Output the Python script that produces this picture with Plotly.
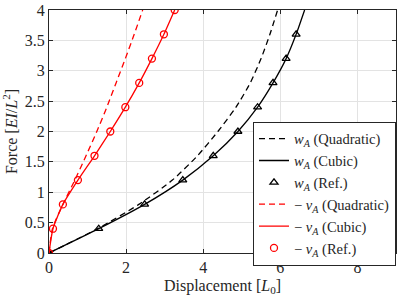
import plotly.graph_objects as go

force = [0, 0.4, 0.8, 1.2, 1.6, 2.0, 2.4, 2.8, 3.2, 3.6, 4.0]

w_quad = [0, 1.26, 2.33, 3.20, 3.85, 4.38, 4.85, 5.22, 5.50, 5.73, 5.93]
w_cubic = [0, 1.29, 2.48, 3.47, 4.26, 4.90, 5.41, 5.81, 6.15, 6.41, 6.63]
w_ref = [0, 1.29, 2.48, 3.47, 4.26, 4.90, 5.41, 5.81, 6.15, 6.41]
force_w_ref = [0, 0.4, 0.8, 1.2, 1.6, 2.0, 2.4, 2.8, 3.2, 3.6]

v_quad = [0, 0.09, 0.36, 0.67, 0.96, 1.24, 1.50, 1.74, 1.98, 2.21, 2.43]
v_cubic = [0, 0.103, 0.36, 0.75, 1.18, 1.59, 1.98, 2.34, 2.67, 2.98, 3.26]
v_ref = [0, 0.103, 0.36, 0.75, 1.18, 1.59, 1.98, 2.34, 2.67, 2.98, 3.26]

x_ticks = [0, 2, 4, 6, 8]
y_ticks = [0, 0.5, 1, 1.5, 2, 2.5, 3, 3.5, 4]

FONT = "Liberation Serif"
TXT = "#262626"
wA = "<i>w</i><sub><i>A</i></sub>"
vA = "\u2212 <i>v</i><sub><i>A</i></sub>"

fig = go.Figure()
fig.add_trace(go.Scatter(x=w_quad, y=force, mode="lines", name=f"{wA} (Quadratic)",
                         line=dict(color="black", width=1.3, dash="6px,4px", shape="spline", smoothing=0.6)))
fig.add_trace(go.Scatter(x=w_cubic, y=force, mode="lines", name=f"{wA} (Cubic)",
                         line=dict(color="black", width=1.3, shape="spline", smoothing=0.6)))
fig.add_trace(go.Scatter(x=w_ref, y=force_w_ref, mode="markers", name=f"{wA} (Ref.)",
                         marker=dict(symbol="triangle-up-open", color="black", size=7, line=dict(width=1.3))))
fig.add_trace(go.Scatter(x=v_quad, y=force, mode="lines", name=f"{vA} (Quadratic)",
                         line=dict(color="#ff0000", width=1.3, dash="6px,4px", shape="spline", smoothing=0.6)))
fig.add_trace(go.Scatter(x=v_cubic, y=force, mode="lines", name=f"{vA} (Cubic)",
                         line=dict(color="#ff0000", width=1.3, shape="spline", smoothing=0.6)))
fig.add_trace(go.Scatter(x=v_ref, y=force, mode="markers", name=f"{vA} (Ref.)",
                         marker=dict(symbol="circle-open", color="#ff0000", size=7, line=dict(width=1.3))))

axis_common = dict(showline=True, linecolor=TXT, linewidth=1, mirror="ticks",
                   ticks="inside", ticklen=4, tickcolor=TXT,
                   showgrid=True, gridcolor="#e3e3e3", gridwidth=1, zeroline=False,
                   ticklabeloverflow="allow",
                   tickfont=dict(family=FONT, size=16, color=TXT))

fig.update_xaxes(range=[0, 9], tickvals=x_ticks, ticktext=[str(t) for t in x_ticks],
                 title=dict(text="Displacement [<i>L</i><sub>0</sub>]", font=dict(family=FONT, size=16, color=TXT), standoff=4),
                 automargin=False, **axis_common)
fig.update_yaxes(range=[0, 4], tickvals=y_ticks, ticktext=[f"{t:g}" for t in y_ticks],
                 title=dict(text="Force [<i>EI</i>/<i>L</i><sup>2</sup>]", font=dict(family=FONT, size=16, color=TXT), standoff=4),
                 automargin=False, **axis_common)

fig.update_layout(
    width=400, height=300,
    margin=dict(l=49, r=4, t=10, b=47),
    plot_bgcolor="white", paper_bgcolor="white",
    legend=dict(x=1, y=0.244, xanchor="right", yanchor="middle",
                bordercolor=TXT, borderwidth=1, bgcolor="white",
                font=dict(family=FONT, size=14.5, color=TXT),
                tracegroupgap=0, itemwidth=30),
    showlegend=True,
)

# remove the page's default body margin so the figure sits at the window's top-left corner
fig.write_html("out.html", config={"displayModeBar": False},
               post_script="document.body.style.margin='0';")
